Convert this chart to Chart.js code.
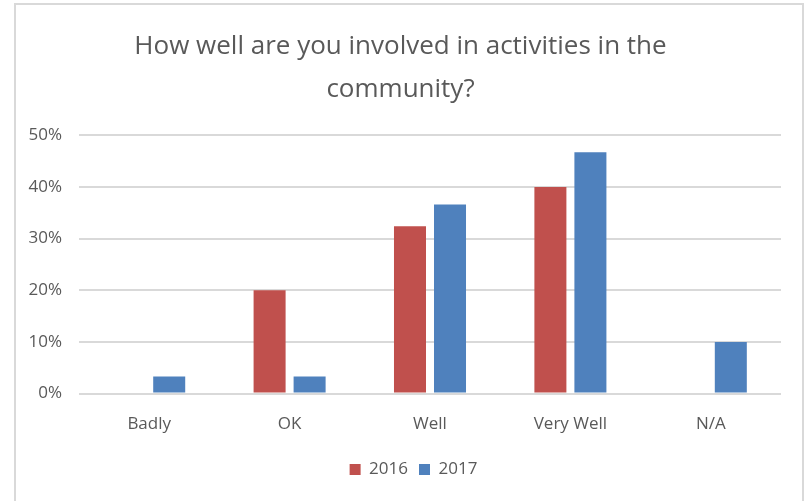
<!DOCTYPE html>
<html>
<head>
<meta charset="utf-8">
<script src="https://cdn.jsdelivr.net/npm/chart.js@4/dist/chart.umd.min.js"></script>
<style>
    body { margin: 0; background: #fff; }
    #frame {
        position: absolute; left: 14px; top: 3px; width: 786px; height: 520px;
        border: 2px solid #d9d9d9;
    }
    #wrap { position: absolute; left: 0; top: 0; width: 810px; height: 501px; }
</style>
</head>
<body>
<div id="frame"></div>
<div id="wrap"><canvas id="chart"></canvas></div>
<script>
// データ
const categories = ['Badly', 'OK', 'Well', 'Very Well', 'N/A'];
const values2016 = [null, 20.0, 32.4, 40.0, null];
const values2017 = [3.3, 3.3, 36.6, 46.7, 10.0];
const yTicks = [0, 10, 20, 30, 40, 50];

const textColor = '#595959';
const fontFamily = "'Open Sans', sans-serif";

// 凡例を少し右へ寄せる
const legendShift = {
    id: 'legendShift',
    afterLayout(chart) {
        chart.legend.left += 13;
        chart.legend.right += 13;
    }
};

new Chart(document.getElementById('chart'), {
    type: 'bar',
    data: {
        labels: categories,
        datasets: [
            { label: '2016', data: values2016, backgroundColor: '#C0504D' },
            { label: '2017', data: values2017, backgroundColor: '#4F81BD' }
        ]
    },
    options: {
        responsive: true,
        maintainAspectRatio: false,
        animation: false,
        categoryPercentage: 0.57,
        barPercentage: 0.8,
        layout: { padding: { left: 20, right: 29, top: 4, bottom: 13 } },
        scales: {
            x: {
                afterFit: scale => { scale.height += 4; },
                grid: { display: false },
                border: { display: false },
                ticks: { color: textColor, font: { family: fontFamily, size: 17 }, padding: 12 }
            },
            y: {
                min: 0,
                max: 50,
                afterBuildTicks: scale => { scale.ticks = yTicks.map(v => ({ value: v })); },
                afterFit: scale => { scale.width = 59; },
                grid: { color: '#d9d9d9', lineWidth: 2, drawTicks: false },
                border: { display: false },
                ticks: {
                    color: textColor,
                    font: { family: fontFamily, size: 17 },
                    padding: 17,
                    callback: v => v + '%'
                }
            }
        },
        plugins: {
            title: {
                display: true,
                text: ['How well are you involved in activities in the', 'community?'],
                color: textColor,
                font: { family: fontFamily, size: 26, weight: 'normal', lineHeight: 1.66 },
                padding: { top: 21, bottom: 24 }
            },
            legend: {
                position: 'bottom',
                labels: {
                    color: textColor,
                    font: { family: fontFamily, size: 17 },
                    boxWidth: 11,
                    boxHeight: 11,
                    padding: 11
                }
            },
            tooltip: { enabled: false }
        }
    },
    plugins: [legendShift]
});
</script>
</body>
</html>
